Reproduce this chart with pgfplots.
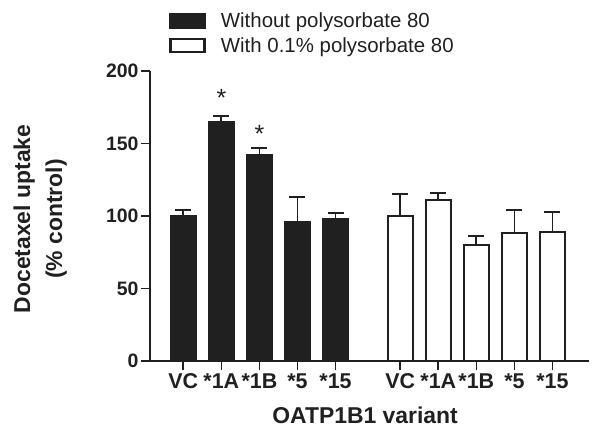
\documentclass[border=0pt]{standalone}
\usepackage{fontspec}
\setmainfont{Liberation Sans}
\usepackage{pgfplots}
\pgfplotsset{compat=1.18}
\definecolor{barblk}{HTML}{202020}
\begin{document}
\begin{tikzpicture}
\useasboundingbox (-150bp,-74bp) rectangle (451bp,361bp);
\begin{axis}[
  at={(0,0)}, anchor=south west,
  scale only axis, width=439bp, height=290bp,
  xmin=-0.875, xmax=10.66, ymin=0, ymax=200,
  axis x line*=bottom, axis y line*=left,
  axis line style={line width=1.6bp, draw=barblk, -},
  tick style={line width=1.6bp, draw=barblk},
  major tick length=9bp, tick align=outside,
  xtick={0,1,2,3,4,5.7,6.7,7.7,8.7,9.7},
  xticklabels={VC,*1A,*1B,*5,*15,VC,*1A,*1B,*5,*15},
  ytick={0,50,100,150,200},
  /pgf/number format/assume math mode=true,
  x tick label style={font=\bfseries\fontsize{21.5}{24}\selectfont, text=barblk, yshift=0bp},
  y tick label style={font=\bfseries\fontsize{19.5}{22}\selectfont, text=barblk, xshift=1bp},
  xlabel={OATP1B1 variant},
  xlabel style={font=\bfseries\fontsize{23}{26}\selectfont, text=barblk, at={(axis description cs:0.49,0)}, anchor=center, yshift=-54bp},
  ylabel={Docetaxel uptake\\(\% control)},
  ylabel style={font=\bfseries\fontsize{23}{32}\selectfont, text=barblk, align=center,
    at={(axis description cs:-0.25,0.49)}, anchor=center, rotate=0},
  legend style={draw=none, fill=none, at={(0,1)}, anchor=south west, xshift=16bp, yshift=13bp,
    font=\fontsize{20.5}{22}\selectfont, text=barblk, row sep=4.5bp},
  legend cell align=left,
  legend image code/.code={\draw[#1, line width=2.5bp] (0bp,-6.5bp) rectangle (34bp,6.5bp); \path[draw=none, fill=none] (0bp,0bp) -- (48.5bp,0bp);},
  error bars/y dir=plus, error bars/y explicit,
  error bars/error bar style={line width=1.8bp, draw=barblk},
  error bars/error mark options={rotate=90, mark size=8bp, line width=1.8bp, draw=barblk},
]
\addplot[ybar, bar width=25.5bp, bar shift=0pt, fill=barblk, draw=barblk, line width=1.6bp]
  coordinates {(0,100) +- (0,4) (1,165) +- (0,4) (2,142) +- (0,5) (3,96) +- (0,17) (4,98) +- (0,4)};
\addlegendentry{Without polysorbate 80}
\addplot[ybar, bar width=25bp, bar shift=0pt, fill=white, draw=barblk, line width=2bp]
  coordinates {(5.7,100) +- (0,15) (6.7,111) +- (0,5) (7.7,80) +- (0,6) (8.7,88) +- (0,16) (9.7,89) +- (0,14)};
\addlegendentry{With 0.1\% polysorbate 80}
\node[anchor=base, font=\fontsize{25}{25}\selectfont, text=barblk] at (axis cs:1,175.5) {*};
\node[anchor=base, font=\fontsize{25}{25}\selectfont, text=barblk] at (axis cs:2,150.5) {*};
\end{axis}
\end{tikzpicture}
\end{document}
